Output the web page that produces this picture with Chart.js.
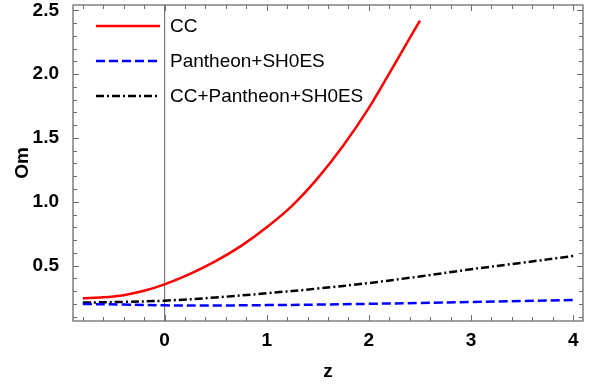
<!DOCTYPE html>
<html><head><meta charset="utf-8">
<script src="https://cdn.jsdelivr.net/npm/chart.js@4"></script>
<style>html,body{margin:0;padding:0;background:#fff}#wrap{width:596px;height:385px}</style>
</head><body><div id="wrap"><canvas id="c" width="596" height="385"></canvas></div>
<script>
// ---- data ----
const seriesNames = ['CC', 'Pantheon+SH0ES', 'CC+Pantheon+SH0ES'];
const zCC   = [-0.8, -0.6, -0.4, -0.2, 0, 0.25, 0.5, 0.75, 1, 1.25, 1.5, 1.75, 2, 2.25, 2.5];
const omCC  = [0.243, 0.251, 0.268, 0.302, 0.352, 0.434, 0.534, 0.654, 0.80, 0.97, 1.185, 1.44, 1.735, 2.075, 2.42];
const zPan  = [-0.8, -0.4, 0, 0.5, 1, 1.5, 2, 2.5, 3, 3.5, 4];
const omPan = [0.199, 0.194, 0.188, 0.187, 0.19, 0.194, 0.2, 0.207, 0.215, 0.222, 0.23];
const zComb  = [-0.8, -0.4, 0, 0.5, 1, 1.5, 2, 2.5, 3, 3.5, 4];
const omComb = [0.21, 0.215, 0.225, 0.25, 0.283, 0.32, 0.363, 0.415, 0.471, 0.522, 0.575];
const xTickValues = [0, 1, 2, 3, 4];
const yTickValues = [0.5, 1.0, 1.5, 2.0, 2.5];
const xMinorTicks = [-0.8,-0.6,-0.4,-0.2,0,0.2,0.4,0.6,0.8,1,1.2,1.4,1.6,1.8,2,2.2,2.4,2.6,2.8,3,3.2,3.4,3.6,3.8,4];
const yMinorTicks = [0.1,0.2,0.3,0.4,0.5,0.6,0.7,0.8,0.9,1.0,1.1,1.2,1.3,1.4,1.5,1.6,1.7,1.8,1.9,2.0,2.1,2.2,2.3,2.4,2.5];

const pts = (xs, ys) => xs.map((x, i) => ({x: x, y: ys[i]}));
const FRAME = '#6e6e6e';
const FONT = '"Liberation Sans", Arial, sans-serif';

const framePlugin = {
  id: 'frame',
  afterDraw(chart) {
    const {ctx, chartArea: a, scales} = chart;
    const xs = scales.x, ys = scales.y;
    ctx.save();
    ctx.strokeStyle = FRAME;
    ctx.lineWidth = 1.3;
    ctx.strokeRect(a.left, a.top, a.right - a.left, a.bottom - a.top);
    ctx.lineWidth = 1;
    ctx.beginPath();
    xMinorTicks.forEach(v => {
      const px = Math.round(xs.getPixelForValue(v)) + 0.5;
      const len = Math.abs(v - Math.round(v)) < 1e-6 ? 6 : 4;
      ctx.moveTo(px, a.bottom); ctx.lineTo(px, a.bottom - len);
      ctx.moveTo(px, a.top); ctx.lineTo(px, a.top + len);
    });
    yMinorTicks.forEach(v => {
      const py = Math.round(ys.getPixelForValue(v)) + 0.5;
      const len = Math.abs(v * 2 - Math.round(v * 2)) < 1e-6 ? 6 : 4;
      ctx.moveTo(a.left, py); ctx.lineTo(a.left + len, py);
      ctx.moveTo(a.right, py); ctx.lineTo(a.right - len, py);
    });
    ctx.stroke();
    // legend
    chart.data.datasets.forEach((ds, i) => {
      const y = 26 + i * 35;
      ctx.strokeStyle = ds.borderColor;
      ctx.lineWidth = ds.borderWidth;
      ctx.setLineDash(ds.borderDash || []);
      ctx.beginPath();
      ctx.moveTo(96, y); ctx.lineTo(160, y);
      ctx.stroke();
      ctx.setLineDash([]);
      ctx.fillStyle = '#000';
      ctx.font = '19px ' + FONT;
      ctx.textBaseline = 'middle';
      ctx.textAlign = 'left';
      ctx.fillText(ds.label, 170, y + 1);
    });
    ctx.restore();
  }
};

new Chart(document.getElementById('c'), {
  type: 'line',
  data: {
    datasets: [
      {label: seriesNames[0], data: pts(zCC, omCC), borderColor: '#ff0000', borderWidth: 2.5, pointRadius: 0, cubicInterpolationMode: 'monotone', fill: false},
      {label: seriesNames[1], data: pts(zPan, omPan), borderColor: '#0000ff', borderWidth: 2.5, borderDash: [9, 4], pointRadius: 0, tension: 0.4, fill: false},
      {label: seriesNames[2], data: pts(zComb, omComb), borderColor: '#000000', borderWidth: 2.5, borderDash: [8, 3, 2, 3], pointRadius: 0, tension: 0.4, fill: false}
    ]
  },
  options: {
    responsive: false,
    devicePixelRatio: 1,
    animation: false,
    layout: {padding: {top: 5, right: 13, left: 0, bottom: 0}},
    plugins: {legend: {display: false}, tooltip: {enabled: false}},
    scales: {
      x: {
        type: 'linear', min: -0.896, max: 4.096,
        afterBuildTicks: s => { s.ticks = xTickValues.map(v => ({value: v})); },
        afterFit: s => { s.height = 64; s.paddingLeft = 0; s.paddingRight = 0; },
        ticks: {color: '#000', font: {family: FONT, size: 19, weight: 'bold'}, padding: 8, maxRotation: 0, autoSkip: false,
                callback: v => String(v)},
        grid: {drawTicks: false, color: c => (c.tick && c.tick.value === 0) ? '#7a7a7a' : 'rgba(0,0,0,0)', lineWidth: 1.2},
        border: {display: false},
        title: {display: true, text: 'z', color: '#000', font: {family: FONT, size: 19, weight: 'bold'}, padding: {top: 0, bottom: 2}}
      },
      y: {
        type: 'linear', min: 0.0655, max: 2.5416,
        afterBuildTicks: s => { s.ticks = yTickValues.map(v => ({value: v})); },
        afterFit: s => { s.width = 73; s.paddingTop = 0; s.paddingBottom = 0; },
        ticks: {color: '#000', font: {family: FONT, size: 19, weight: 'bold'}, padding: 6, autoSkip: false,
                callback: v => Number(v).toFixed(1)},
        grid: {display: false},
        border: {display: false},
        title: {display: true, text: 'Om', color: '#000', font: {family: FONT, size: 19, weight: 'bold'}, padding: {top: 11, bottom: 0}}
      }
    }
  },
  plugins: [framePlugin]
});
</script></body></html>
